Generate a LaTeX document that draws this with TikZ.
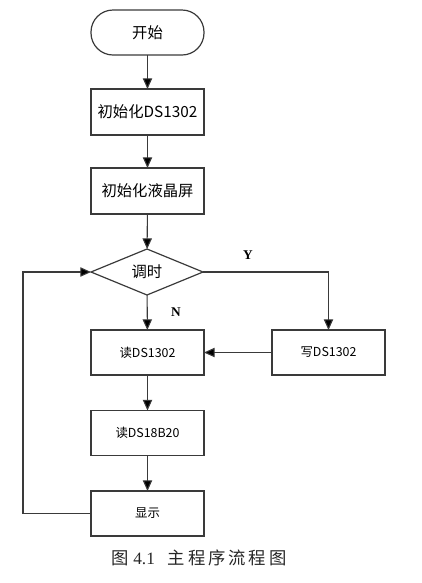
\documentclass[tikz,border=0pt]{standalone}
\usepackage{fontspec}
\setmainfont{Liberation Serif}
\newfontfamily\cjk{Noto Sans CJK SC}
\usetikzlibrary{arrows.meta,shapes.geometric}
\definecolor{linec}{HTML}{3A3A3A}
\tikzset{
  every node/.style={inner sep=0pt, outer sep=0pt},
  boxa/.style={draw=linec, line width=0.9pt, minimum width=113*0.75pt, minimum height=46*0.75pt, font=\cjk\fontsize{11.5pt}{13pt}\selectfont},
  boxb/.style={draw=linec, line width=0.9pt, minimum width=113*0.75pt, minimum height=45*0.75pt, font=\cjk\fontsize{9.3pt}{11pt}\selectfont},
  term/.style={draw=linec, line width=0.9pt, rounded corners=22*0.75pt, minimum width=113*0.75pt, minimum height=45*0.75pt, font=\cjk\fontsize{11.5pt}{13pt}\selectfont},
  decide/.style={draw=linec, line width=0.9pt, diamond, aspect=2.45, minimum width=112*0.75pt, minimum height=46*0.75pt, inner sep=0pt, font=\cjk\fontsize{11.5pt}{13pt}\selectfont},
  flow/.style={draw=linec, line width=0.8pt, -{Triangle[length=8pt,width=7pt,fill=black]}},
  lbl/.style={font=\fontsize{10pt}{12pt}\selectfont\bfseries}
}
\begin{document}
\begin{tikzpicture}[x=0.75pt,y=-0.75pt]
\useasboundingbox (0,0) rectangle (422,583);
\node[term] (start) at (147.5,32.5) {开始};
\node[boxa] (init1) at (147.5,112) {初始化DS1302};
\node[boxa] (init2) at (147.5,191) {初始化液晶屏};
\node[decide] (adj) at (147,272) {调时};
\node[boxb] (rd) at (147.5,352.5) {读DS1302};
\node[boxb] (wr) at (328.5,352.5) {写DS1302};
\node[boxb] (rt) at (147.5,433) {读DS18B20};
\node[boxb] (disp) at (147.5,513.5) {显示};
\coordinate (c1) at (328.5,272);
\coordinate (c2) at (23,513.5);
\coordinate (c3) at (23,272);
\node[lbl] (ylab) at (248,255) {Y};
\node[lbl] (nlab) at (176,312) {N};
\node[font=\fontsize{13pt}{15pt}\selectfont, text=black!85] (cap) at (199,558) {{\cjk 图}\ 4.1\ \ \ {\cjk 主\,程\,序\,流\,程\,图}};
\draw[flow] (start) -- (init1);
\draw[flow] (init1) -- (init2);
\draw[flow] (init2) -- (adj);
\draw[flow] (adj) -- (rd);
\draw[flow] (adj.east) -- (c1) -- (wr.north);
\draw[flow] (wr) -- (rd);
\draw[flow] (rd) -- (rt);
\draw[flow] (rt) -- (disp);
\draw[flow] (disp.west) -- (c2) -- (c3) -- (adj.west);
\end{tikzpicture}
\end{document}
